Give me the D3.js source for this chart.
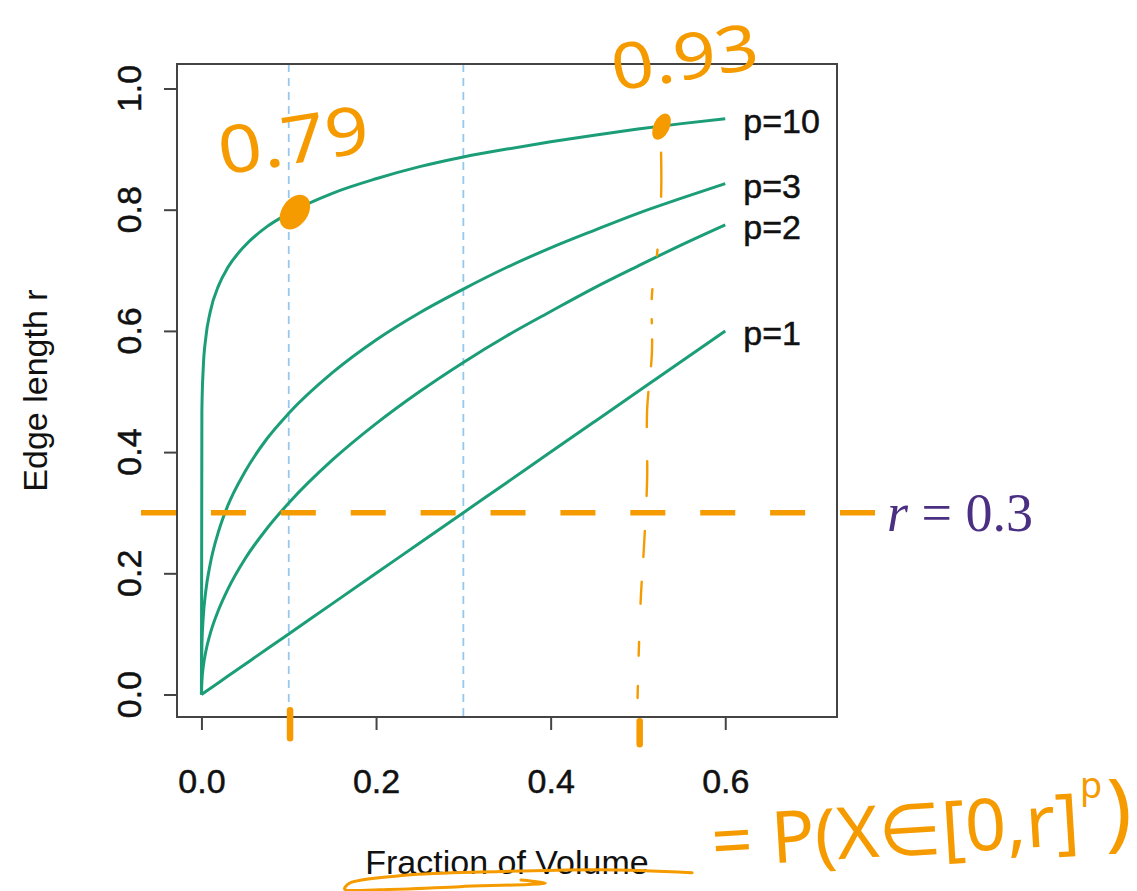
<!DOCTYPE html>
<meta charset="utf-8">
<style>
body { margin: 0; background: #fff; }
text { font-family: "Liberation Sans", Arial, sans-serif; fill: #111; }
.plain { stroke: #111; stroke-width: 0.5px; }
.hand { font-family: "Noto Sans", sans-serif; fill: #f59b00; }
</style>
<script src="https://d3js.org/d3.v7.min.js"></script>
<div id="viz"></div>
<script>
// values
var fraction = [0, 0.0005, 0.002, 0.005, 0.01, 0.02, 0.03, 0.05, 0.075, 0.1, 0.15, 0.2, 0.25, 0.3, 0.35, 0.4, 0.45, 0.5, 0.55, 0.6];
var edgeP10 = [0, 0.468, 0.537, 0.589, 0.631, 0.676, 0.704, 0.741, 0.772, 0.794, 0.827, 0.851, 0.871, 0.887, 0.900, 0.912, 0.923, 0.933, 0.942, 0.950];
var edgeP3  = [0, 0.079, 0.126, 0.171, 0.215, 0.271, 0.311, 0.368, 0.422, 0.464, 0.531, 0.585, 0.630, 0.669, 0.705, 0.737, 0.766, 0.794, 0.819, 0.843];
var edgeP2  = [0, 0.022, 0.045, 0.071, 0.100, 0.141, 0.173, 0.224, 0.274, 0.316, 0.387, 0.447, 0.500, 0.548, 0.592, 0.632, 0.671, 0.707, 0.742, 0.775];
var edgeP1  = [0, 0.0005, 0.002, 0.005, 0.01, 0.02, 0.03, 0.05, 0.075, 0.1, 0.15, 0.2, 0.25, 0.3, 0.35, 0.4, 0.45, 0.5, 0.55, 0.6];
var curveNames = ["p=10", "p=3", "p=2", "p=1"];
var xTicks = [0, 0.2, 0.4, 0.6];
var yTicks = [0, 0.2, 0.4, 0.6, 0.8, 1.0];
var guideX = [0.1, 0.3];
var cutoffR = 0.3;

// hand-drawn notes (data units)
var noteDots = [{x: 0.107, y: 0.796, rx: 13, ry: 19, rot: 35}, {x: 0.527, y: 0.937, rx: 8, ry: 14, rot: 25}];
var handDropX = [0.5265, 0.5265, 0.522, 0.516, 0.516, 0.5105, 0.5105, 0.507, 0.5035, 0.501, 0.4995];
var handDropY = [0.894, 0.821, 0.7285, 0.659, 0.5635, 0.4695, 0.354, 0.2467, 0.1658, 0.0734, -0.009];
var handTicks = [{x: 0.1015, y1: -0.026, y2: -0.072}, {x: 0.502, y1: -0.044, y2: -0.082}];
var underlineX = [0.562, 0.457, 0.319, 0.227, 0.170, 0.164, 0.204, 0.296, 0.394, 0.366];
var underlineY = [-0.294, -0.289, -0.293, -0.299, -0.311, -0.321, -0.322, -0.317, -0.311, -0.306];

var margin = {top: 64, right: 300, bottom: 174, left: 177};
var width = 1137 - margin.left - margin.right;
var height = 891 - margin.top - margin.bottom;

var svg = d3.select('#viz')
    .append('svg')
        .attr('width', 1137)
        .attr('height', 891)
    .append('g')
        .attr('transform', 'translate(' + margin.left + ',' + margin.top + ')');

var x = d3.scaleLinear().domain([-0.028, 0.728]).range([0, width]);
var y = d3.scaleLinear().domain([-0.0371, 1.0404]).range([height, 0]);

var green = '#1b9e77';
var orange = '#f59b00';

// blue guide lines
svg.selectAll('.guide')
    .data(guideX)
    .enter()
    .append('line')
    .attr('x1', function(d) { return x(d); })
    .attr('x2', function(d) { return x(d); })
    .attr('y1', 0)
    .attr('y2', height)
    .attr('stroke', '#95c8ec')
    .attr('stroke-width', 1.8)
    .attr('stroke-dasharray', '8,6');

// curves
var series = [edgeP10, edgeP3, edgeP2, edgeP1];
var line = d3.line()
    .x(function(d, i) { return x(fraction[i]); })
    .y(function(d) { return y(d); })
    .curve(d3.curveMonotoneX);

svg.selectAll('.curve')
    .data(series)
    .enter()
    .append('path')
    .attr('d', line)
    .attr('fill', 'none')
    .attr('stroke', green)
    .attr('stroke-width', 3);

svg.selectAll('.clab')
    .data(series)
    .enter()
    .append('text')
    .attr('class', 'plain')
    .attr('x', x(0.6) + 18)
    .attr('y', function(d) { return y(d[d.length - 1]) + 14; })
    .style('font-size', '34px')
    .text(function(d, i) { return curveNames[i]; });

// box
svg.append('rect')
    .attr('width', width)
    .attr('height', height)
    .attr('fill', 'none')
    .attr('stroke', '#444')
    .attr('stroke-width', 2);

// x axis
var xAxis = svg.append('g')
    .attr('transform', 'translate(0,' + height + ')')
    .call(d3.axisBottom(x).tickValues(xTicks).tickSize(13).tickSizeOuter(0).tickPadding(39).tickFormat(d3.format('.1f')));
xAxis.select('.domain').remove();
xAxis.selectAll('line').attr('stroke', '#444').attr('stroke-width', 2);
xAxis.selectAll('text')
    .attr('class', 'plain')
    .style('font-size', '34px')
    .attr('fill', '#111')
    .style('font-family', '"Liberation Sans", Arial, sans-serif');

// y axis
var yAxis = svg.append('g')
    .call(d3.axisLeft(y).tickValues(yTicks).tickSize(13).tickSizeOuter(0).tickFormat(''));
yAxis.select('.domain').remove();
yAxis.selectAll('line').attr('stroke', '#444').attr('stroke-width', 2);

svg.selectAll('.ylab')
    .data(yTicks)
    .enter()
    .append('text')
    .attr('class', 'plain')
    .attr('transform', function(d) { return 'translate(' + (-36) + ',' + y(d) + ') rotate(-90)'; })
    .attr('text-anchor', 'middle')
    .style('font-size', '34px')
    .text(d3.format('.1f'));

svg.append('text')
    .attr('x', width / 2)
    .attr('y', height + 157)
    .attr('text-anchor', 'middle')
    .style('font-size', '34px')
    .text('Fraction of Volume');

svg.append('text')
    .attr('transform', 'translate(' + (-130) + ',' + (height / 2) + ') rotate(-90)')
    .attr('text-anchor', 'middle')
    .style('font-size', '34px')
    .text('Edge length r');

// r = 0.3 cut-off
svg.append('line')
    .attr('x1', x(-0.0692))
    .attr('x2', x(0.7716))
    .attr('y1', y(cutoffR))
    .attr('y2', y(cutoffR))
    .attr('stroke', orange)
    .attr('stroke-width', 5.5)
    .attr('stroke-dasharray', '35,34.9');

var rLab = svg.append('text')
    .attr('x', x(0.7716) + 12)
    .attr('y', y(cutoffR) + 18)
    .style('font-family', '"Liberation Serif", "Times New Roman", serif')
    .style('font-size', '54px')
    .style('fill', '#4a2f82');
rLab.append('tspan').style('font-style', 'italic').text('r');
rLab.append('tspan').text(' = 0.3');

// hand-drawn notes
svg.selectAll('.dot')
    .data(noteDots)
    .enter()
    .append('ellipse')
    .attr('transform', function(d) { return 'translate(' + x(d.x) + ',' + y(d.y) + ') rotate(' + d.rot + ')'; })
    .attr('rx', function(d) { return d.rx; })
    .attr('ry', function(d) { return d.ry; })
    .attr('fill', orange);

var dropLine = d3.line()
    .x(function(d, i) { return x(handDropX[i]); })
    .y(function(d) { return y(d); })
    .curve(d3.curveCatmullRom);
svg.append('path')
    .attr('d', dropLine(handDropY))
    .attr('fill', 'none')
    .attr('stroke', orange)
    .attr('stroke-width', 2.4)
    .attr('stroke-linecap', 'round')
    .attr('stroke-dasharray', '44,53,6,34,10,20,4,16,27,26,35,34,35,35,26,25,22,38,14,30,12,60');

svg.selectAll('.htick')
    .data(handTicks)
    .enter()
    .append('line')
    .attr('x1', function(d) { return x(d.x); })
    .attr('x2', function(d) { return x(d.x); })
    .attr('y1', function(d) { return y(d.y1); })
    .attr('y2', function(d) { return y(d.y2); })
    .attr('stroke', orange)
    .attr('stroke-width', 6.5)
    .attr('stroke-linecap', 'round');

var underline = d3.line()
    .x(function(d, i) { return x(underlineX[i]); })
    .y(function(d) { return y(d); })
    .curve(d3.curveCatmullRom);
svg.append('path')
    .attr('d', underline(underlineY))
    .attr('fill', 'none')
    .attr('stroke', orange)
    .attr('stroke-width', 3)
    .attr('stroke-linecap', 'round');

svg.append('text')
    .attr('class', 'hand')
    .attr('transform', 'translate(' + (222 - margin.left) + ',' + (175 - margin.top) + ') rotate(-9)')
    .attr('textLength', 152)
    .attr('lengthAdjust', 'spacingAndGlyphs')
    .style('font-size', '66px')
    .text('0.79');

svg.append('text')
    .attr('class', 'hand')
    .attr('transform', 'translate(' + (615 - margin.left) + ',' + (91 - margin.top) + ') rotate(-9)')
    .attr('textLength', 148)
    .attr('lengthAdjust', 'spacingAndGlyphs')
    .style('font-size', '64px')
    .text('0.93');

svg.append('text')
    .attr('class', 'hand')
    .attr('transform', 'translate(' + (713 - margin.left) + ',' + (867 - margin.top) + ') rotate(-3.5)')
    .attr('textLength', 368)
    .attr('lengthAdjust', 'spacingAndGlyphs')
    .style('font-size', '72px')
    .text('= P(X\u2208[0,r]');

svg.append('text')
    .attr('class', 'hand')
    .attr('x', 1080 - margin.left)
    .attr('y', 798 - margin.top)
    .style('font-size', '36px')
    .text('p');

svg.append('text')
    .attr('class', 'hand')
    .attr('x', 1106 - margin.left)
    .attr('y', 840 - margin.top)
    .style('font-size', '86px')
    .text(')');
</script>
